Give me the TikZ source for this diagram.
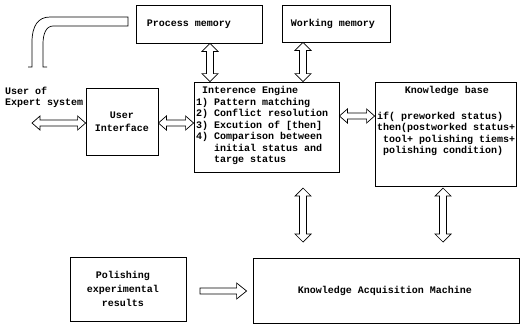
\documentclass[tikz,border=0pt]{standalone}
\usepackage{fontspec}
\setmonofont{Liberation Mono}
\usetikzlibrary{calc}
\newcommand{\hdarr}[2]{\draw[arr] let \p1=#1, \p2=#2 in
  (\x1,\y1) -- ++(8pt,7pt) -- ++(0,-4pt) -- (\x2-8pt,\y1+3pt) -- ++(0,4pt) -- (\x2,\y1)
  -- ++(-8pt,-7pt) -- ++(0,4pt) -- (\x1+8pt,\y1-3pt) -- ++(0,-4pt) -- cycle;}
\newcommand{\vdarr}[2]{\draw[arr] let \p1=#1, \p2=#2 in
  (\x1,\y1) -- ++(-8pt,-8pt) -- ++(4.5pt,0) -- (\x1-3.5pt,\y2+8pt) -- ++(-4.5pt,0) -- (\x1,\y2)
  -- ++(8pt,8pt) -- ++(-4.5pt,0) -- (\x1+3.5pt,\y1-8pt) -- ++(4.5pt,0) -- cycle;}
\newcommand{\rarr}[2]{\draw[arr] let \p1=#1, \p2=#2 in
  (\x1,\y1+3pt) -- (\x2-10pt,\y1+3pt) -- ++(0,5pt) -- (\x2,\y1) -- (\x2-10pt,\y1-8pt)
  -- ++(0,5pt) -- (\x1,\y1-3pt) -- cycle;}
\begin{document}
\begin{tikzpicture}[x=1pt,y=-1pt,
  every node/.style={font=\ttfamily\bfseries\fontsize{10}{11.5}\selectfont, inner sep=0pt},
  box/.style={draw, line width=0.8pt},
  arr/.style={draw, line width=0.7pt, line join=miter},
  txt/.style={align=left, anchor=north west}]
\useasboundingbox (0,0) rectangle (522,325);

% boxes
\node[box, minimum width=126, minimum height=38] (pm) at (199,24) {};
\node (pmt) at (189,24) {Process memory};
\node[box, minimum width=108, minimum height=37] (wm) at (336,23.5) {};
\node (wmt) at (333,23.5) {Working memory};
\node[box, minimum width=145, minimum height=90] (ie) at (266.5,127) {};
\node[txt] (iet) at (196,86.5) {\hspace*{6pt}Interence Engine\\1) Pattern matching\\2) Conflict resolution\\3) Excution of [then]\\4) Comparison between\\\hspace*{18pt}initial status and\\\hspace*{18pt}targe status};
\node[box, minimum width=141, minimum height=104] (kb) at (445.5,134) {};
\node (kbt) at (447,91) {Knowledge base};
\node[txt] (kbl) at (377,111.5) {if( preworked status)\\then(postworked status+\\\hspace*{6pt}tool+ polishing tiems+\\\hspace*{6pt}polishing condition)};
\node[box, minimum width=72, minimum height=67] (ui) at (122,121.5) {};
\node[align=center, font=\ttfamily\bfseries\fontsize{10}{13}\selectfont] (uit) at (122,122) {User\\Interface};
\node[txt] (usr) at (5,86.5) {User of\\Expert system};
\node[box, minimum width=116, minimum height=64] (pol) at (128,289) {};
\node[align=center, font=\ttfamily\bfseries\fontsize{10}{14}\selectfont] (polt) at (123,289) {Polishing\\experimental\\results};
\node[box, minimum width=266, minimum height=65] (kam) at (386,291) {};
\node (kamt) at (385,291) {Knowledge Acquisition Machine};

% helper coordinates
\coordinate (x210) at (210,0);
\coordinate (x303) at (303,0);
\coordinate (x443) at (443,0);
\coordinate (user) at (32,123);
\coordinate (ieb) at (303,188);
\coordinate (kbb) at (443,188);
\coordinate (kamt1) at (303,242);
\coordinate (kamt2) at (443,242);
\coordinate (ierow) at (0,123);
\coordinate (kbrow) at (0,116);
\coordinate (polout) at (200,291);

% arrows
\vdarr{(pm.south -| x210)}{(ie.north -| x210)}
\vdarr{(wm.south -| x303)}{(ie.north -| x303)}
\hdarr{(user)}{(ui.west |- user)}
\hdarr{(ui.east |- ierow)}{(ie.west |- ierow)}
\hdarr{(ie.east |- kbrow)}{(kb.west |- kbrow)}
\vdarr{(ieb)}{(kamt1)}
\vdarr{(kbb)}{(kamt2)}
\rarr{(polout)}{($(kam.west)+(-6,0)$)}

% pipe from process memory
\coordinate (pipeend) at (128,0);
\draw[line width=0.7pt] (28,67) -- (32,67) -- (32,42) .. controls (32,26) and (38,17) .. (50,17)
  -- (pipeend |- 0,17) -- (pipeend |- 0,26) -- (53,26) .. controls (46,26) and (43,34) .. (43,44)
  -- (43,67) -- (47,67);
\end{tikzpicture}
\end{document}
